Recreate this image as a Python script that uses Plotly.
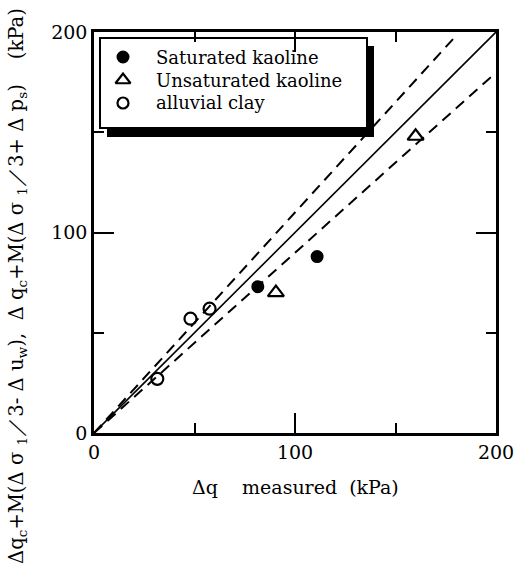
import plotly.graph_objects as go

# Data
sat_x = [81.5, 111.0]
sat_y = [73.0, 88.0]
unsat_x = [90.5, 160.0]
unsat_y = [70.0, 148.0]
alluv_x = [31.5, 48.0, 57.5]
alluv_y = [27.0, 57.0, 62.0]

one_x = [0, 200]
one_y = [0, 200]
upper_x = [0, 180]
upper_y = [0, 198]
lower_x = [0, 198]
lower_y = [0, 178]

legend_names = ["Saturated kaoline", "Unsaturated kaoline", "alluvial clay"]

FONT = "DejaVu Serif"
NB = "\u00a0"

# plot area in pixels
L, R, T, B = 94, 496, 32, 433
def px(xp):
    return (xp - L) / (R - L)
def py(yp):
    return (B - yp) / (B - T)

series_styles = [
    dict(symbol="circle", size=11, color="black", line=dict(width=2, color="black")),
    dict(symbol="triangle-up-open", size=14, color="black", line=dict(width=2.2, color="black")),
    dict(symbol="circle-open", size=12, color="black", line=dict(width=2.2, color="black")),
]
series_data = [(sat_x, sat_y), (unsat_x, unsat_y), (alluv_x, alluv_y)]

fig = go.Figure()
fig.add_trace(go.Scatter(x=one_x, y=one_y, mode="lines", line=dict(color="black", width=1.6),
                         showlegend=False, hoverinfo="skip"))
fig.add_trace(go.Scatter(x=upper_x, y=upper_y, mode="lines",
                         line=dict(color="black", width=2, dash="11px,7px"),
                         showlegend=False, hoverinfo="skip"))
fig.add_trace(go.Scatter(x=lower_x, y=lower_y, mode="lines",
                         line=dict(color="black", width=2, dash="11px,7px"),
                         showlegend=False, hoverinfo="skip"))

for name, (xs, ys), st in zip(legend_names, series_data, series_styles):
    fig.add_trace(go.Scatter(x=xs, y=ys, mode="markers", name=name, showlegend=False,
                             marker=st))

# legend keys on an invisible overlay axis spanning the plot area (0..1)
key_rows = [57, 80, 103]
key_sizes = [11, 13, 11]
for r, st, ks in zip(key_rows, series_styles, key_sizes):
    m = dict(st)
    m["size"] = ks
    fig.add_trace(go.Scatter(x=[px(123)], y=[py(r)], mode="markers",
                             xaxis="x2", yaxis="y2", showlegend=False, hoverinfo="skip",
                             marker=m))

shapes = [
    dict(type="rect", xref="paper", yref="paper", x0=px(107), x1=px(374), y0=py(137), y1=py(46),
         fillcolor="black", line=dict(width=0), layer="below"),
    dict(type="rect", xref="paper", yref="paper", x0=px(100), x1=px(367), y0=py(128), y1=py(38),
         fillcolor="white", line=dict(color="black", width=2), layer="below"),
]

def axis():
    return dict(range=[0, 200], showgrid=False, zeroline=False, showline=True,
                linecolor="black", linewidth=2.5, mirror="allticks",
                ticks="inside", ticklen=20, tickwidth=2, tickcolor="black",
                dtick=100, tick0=0, automargin=False, ticklabeloverflow="allow",
                minor=dict(ticks="inside", ticklen=10, tickwidth=2, tickcolor="black", dtick=50),
                tickfont=dict(family=FONT, size=19, color="black"), fixedrange=True)

annotations = []
for name, r in zip(legend_names, key_rows):
    annotations.append(dict(text=name, xref="paper", yref="paper", x=px(154), y=py(r),
                            xanchor="left", yanchor="middle", showarrow=False,
                            font=dict(family=FONT, size=18, color="black")))
annotations.append(dict(text="Δq" + NB * 4 + "measured" + NB * 2 + "(kPa)", xref="paper", yref="paper",
                        x=0.5, y=py(487), xanchor="center", yanchor="middle", showarrow=False,
                        font=dict(family=FONT, size=19, color="black")))
annotations.append(dict(text="Δq<sub>c</sub>+M(Δ σ <sub>1</sub>／3- Δ u<sub>w</sub>)," + NB * 2 +
                             "Δ q<sub>c</sub>+M(Δ σ <sub>1</sub>／3+ Δ p<sub>s</sub>)" + NB * 4 + "(kPa)",
                        xref="paper", yref="paper", x=px(17), y=py(286), xanchor="center",
                        yanchor="middle", textangle=-90, showarrow=False,
                        font=dict(family=FONT, size=19.6, color="black")))

fig.update_layout(
    width=514, height=573,
    margin=dict(l=L, r=514 - R, t=T, b=573 - B),
    paper_bgcolor="white", plot_bgcolor="white",
    font=dict(family=FONT, color="black"),
    xaxis=axis(), yaxis=axis(),
    xaxis2=dict(range=[0, 1], overlaying="x", visible=False, fixedrange=True),
    yaxis2=dict(range=[0, 1], overlaying="y", visible=False, fixedrange=True),
    shapes=shapes,
    showlegend=False,
    annotations=annotations,
)

fig.write_html("out.html")
